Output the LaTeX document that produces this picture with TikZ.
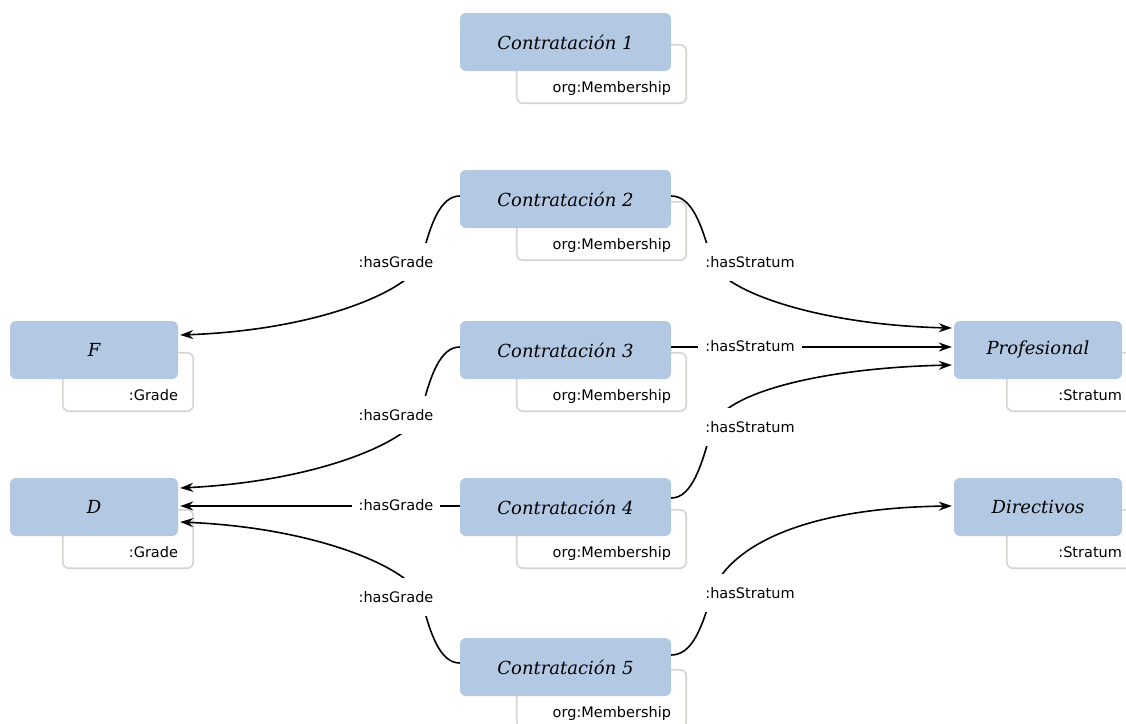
\documentclass[tikz,border=0pt]{standalone}
\usepackage{fontspec}
\setmainfont{DejaVu Serif}
\setsansfont{DejaVu Sans}
\usetikzlibrary{arrows.meta,backgrounds}
\definecolor{boxblue}{HTML}{B3C9E3}
\definecolor{typegray}{HTML}{D5D5D0}
\tikzset{
  entity/.style={fill=boxblue, rounded corners=6pt, minimum height=58pt, inner sep=0pt,
    font=\fontsize{18}{20}\selectfont\itshape},
  typebox/.style={draw=typegray, line width=1.6pt, fill=white, rounded corners=6pt},
  typename/.style={font=\sffamily\fontsize{14.5}{16}\selectfont, anchor=base east, inner sep=0pt},
  rel/.style={line width=1.6pt, -{Stealth[length=13pt,width=9pt]}},
  rellabel/.style={fill=white, font=\sffamily\fontsize{14.5}{16}\selectfont,
    inner xsep=7pt, inner ysep=13pt},
}
% #1 name, #2 centre, #3 width, #4 title, #5 type, #6 left inset of the type box
\newcommand\entitynode[6]{%
  \node[entity, minimum width=#3] (#1) at (#2) {#4};
  \begin{scope}[on background layer]
    \draw[typebox] ([xshift=#6,yshift=-32pt]#1.north west) rectangle ([xshift=15pt,yshift=-32pt]#1.south east);
  \end{scope}
  \node[typename] at ([yshift=-21pt]#1.south east) {#5};
}
\begin{document}
\begin{tikzpicture}[x=1pt,y=-1pt]
  \clip (0,0) rectangle (1126,723);
  \begin{scope}[on background layer]
    \fill[white] (0,0) rectangle (1126,723);
  \end{scope}

  % memberships
  \entitynode{c1}{565.5,42}{211pt}{Contratación 1}{org:Membership}{57pt}
  \entitynode{c2}{565.5,199}{211pt}{Contratación 2}{org:Membership}{57pt}
  \entitynode{c3}{565.5,350}{211pt}{Contratación 3}{org:Membership}{57pt}
  \entitynode{c4}{565.5,507}{211pt}{Contratación 4}{org:Membership}{57pt}
  \entitynode{c5}{565.5,667}{211pt}{Contratación 5}{org:Membership}{57pt}

  % grades
  \entitynode{gf}{94,350}{168pt}{F}{:Grade}{53pt}
  \entitynode{gd}{94,507}{168pt}{D}{:Grade}{53pt}

  % strata
  \entitynode{sp}{1038,350}{168pt}{Profesional}{:Stratum}{53pt}
  \entitynode{sd}{1038,507}{168pt}{Directivos}{:Stratum}{53pt}

  % :hasGrade
  \draw[rel] ([yshift=3pt]c2.west) .. controls (440,196) and (430,225) .. (421,262)
    .. controls (410,290) and (320,330) .. ([xshift=2pt,yshift=15pt]gf.east);
  \draw[rel] ([yshift=3pt]c3.west) .. controls (440,347) and (430,376) .. (421,413)
    .. controls (410,441) and (320,481) .. ([xshift=2pt,yshift=19pt]gd.east);
  \draw[rel] ([yshift=1pt]c4.west) -- ([xshift=2pt,yshift=1pt]gd.east);
  \draw[rel] ([yshift=4pt]c5.west) .. controls (440,663) and (430,634) .. (421,597)
    .. controls (410,569) and (320,528) .. ([xshift=2pt,yshift=-15pt]gd.east);

  % :hasStratum
  \draw[rel] ([yshift=3pt]c2.east) .. controls (692,196) and (702,225) .. (712,262)
    .. controls (724,292) and (820,325) .. ([xshift=-2pt,yshift=22pt]sp.west);
  \draw[rel] ([yshift=3pt]c3.east) -- ([xshift=-2pt,yshift=3pt]sp.west);
  \draw[rel] ([yshift=9pt]c4.east) .. controls (692,498) and (702,465) .. (712,427)
    .. controls (724,393) and (820,368) .. ([xshift=-2pt,yshift=-15pt]sp.west);
  \draw[rel] ([yshift=12pt]c5.east) .. controls (692,655) and (702,628) .. (712,593)
    .. controls (726,553) and (790,508) .. ([xshift=-2pt,yshift=1pt]sd.west);

  % relation labels
  \node[rellabel] (l1) at (396,262) {:hasGrade};
  \node[rellabel] (l2) at (396,415) {:hasGrade};
  \node[rellabel] (l3) at (396,505) {:hasGrade};
  \node[rellabel] (l4) at (396,597) {:hasGrade};
  \node[rellabel] (l5) at (750,262) {:hasStratum};
  \node[rellabel] (l6) at (750,346) {:hasStratum};
  \node[rellabel] (l7) at (750,427) {:hasStratum};
  \node[rellabel] (l8) at (750,593) {:hasStratum};
\end{tikzpicture}
\end{document}
